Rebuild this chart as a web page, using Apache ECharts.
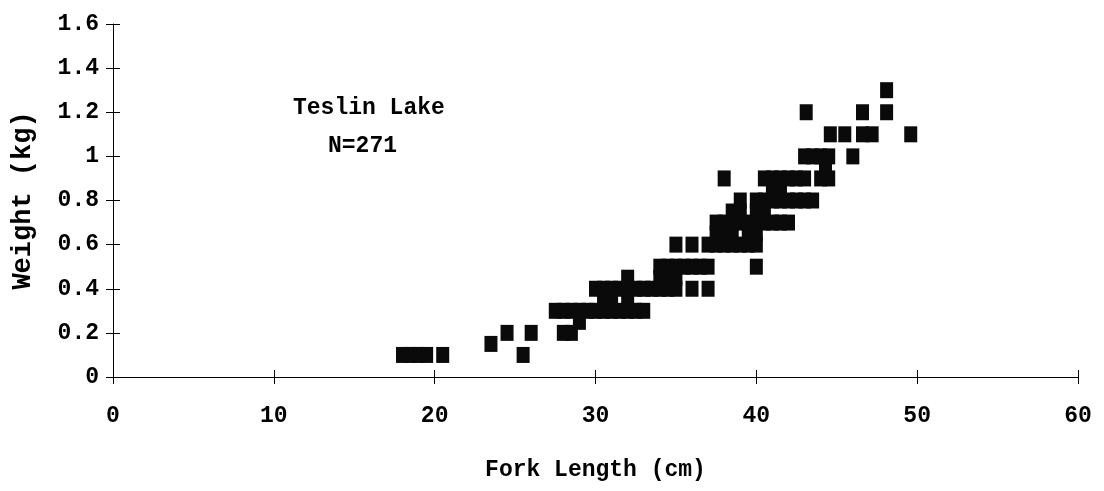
<!DOCTYPE html>
<html>
<head>
<meta charset="utf-8">
<script src="https://cdn.jsdelivr.net/npm/echarts@6/dist/echarts.min.js"></script>
<style>
html,body{margin:0;padding:0;background:#fff;}
#chart{width:1104px;height:491px;}
</style>
</head>
<body>
<div id="chart"></div>
<script>
// Fork length (cm) and weight (kg), one entry per visible marker
const lengthCm = [
  18, 18.5, 19, 19.5, 20.5, 25.5,
  23.5,
  24.5, 26, 28, 28.5,
  29,
  27.5, 28, 28.5, 29, 29.5, 30, 30.5, 31, 31.5, 32, 32.5, 33,
  30.5, 31, 32,
  30, 30.5, 31, 31.5, 32, 32.5, 33, 33.5, 34, 34.5, 35, 36, 37,
  32, 34, 34.5, 35,
  34, 34.5, 35, 35.5, 36, 36.5, 37, 40,
  35, 36, 37, 37.5, 38, 38.5, 39, 39.5, 40,
  37.5, 38, 38.5, 39.5, 40,
  37.5, 38, 38.5, 39, 39.5, 40, 40.5, 41, 41.5, 42,
  38.5, 39, 40, 40.5,
  39, 40, 40.5, 41, 41.5, 42, 42.5, 43, 43.5,
  41, 41.5,
  38, 40.5, 41, 41.5, 42, 42.5, 43, 44, 44.5,
  44.3,
  43, 43.5, 44, 44.5, 46,
  44.6, 45.5, 46.6, 47.2, 49.6,
  43.1, 46.6, 48.1,
  48.1
];
const weightKg = [
  0.1, 0.1, 0.1, 0.1, 0.1, 0.1,
  0.15,
  0.2, 0.2, 0.2, 0.2,
  0.25,
  0.3, 0.3, 0.3, 0.3, 0.3, 0.3, 0.3, 0.3, 0.3, 0.3, 0.3, 0.3,
  0.35, 0.35, 0.35,
  0.4, 0.4, 0.4, 0.4, 0.4, 0.4, 0.4, 0.4, 0.4, 0.4, 0.4, 0.4, 0.4,
  0.45, 0.45, 0.45, 0.45,
  0.5, 0.5, 0.5, 0.5, 0.5, 0.5, 0.5, 0.5,
  0.6, 0.6, 0.6, 0.6, 0.6, 0.6, 0.6, 0.6, 0.6,
  0.65, 0.65, 0.65, 0.65, 0.65,
  0.7, 0.7, 0.7, 0.7, 0.7, 0.7, 0.7, 0.7, 0.7, 0.7,
  0.75, 0.75, 0.75, 0.75,
  0.8, 0.8, 0.8, 0.8, 0.8, 0.8, 0.8, 0.8, 0.8,
  0.85, 0.85,
  0.9, 0.9, 0.9, 0.9, 0.9, 0.9, 0.9, 0.9, 0.9,
  0.95,
  1.0, 1.0, 1.0, 1.0, 1.0,
  1.1, 1.1, 1.1, 1.1, 1.1,
  1.2, 1.2, 1.2,
  1.3
];
const xTicks = [0, 10, 20, 30, 40, 50, 60];
const yTicks = [0, 0.2, 0.4, 0.6, 0.8, 1, 1.2, 1.4, 1.6];
const xTitle = 'Fork Length (cm)';
const yTitle = 'Weight (kg)';
const noteLines = ['Teslin Lake', 'N=271'];

const points = lengthCm.map((x, i) => [x, weightKg[i]]);
const FONT = '"Liberation Mono", "Courier New", monospace';

const chart = echarts.init(document.getElementById('chart'), null, {renderer: 'canvas'});
const axisLine = {show: true, lineStyle: {color: '#000', width: 1}};
chart.setOption({
  animation: false,
  backgroundColor: '#fff',
  grid: {left: 113, right: 26, top: 24, bottom: 114, containLabel: false},
  xAxis: [{
    type: 'value', min: xTicks[0], max: xTicks[xTicks.length - 1], interval: 10,
    position: 'bottom',
    axisLine: axisLine,
    axisTick: {show: true, inside: false, length: 7, lineStyle: {color: '#000'}},
    splitLine: {show: false},
    axisLabel: {show: true, margin: 28, color: '#000', fontFamily: FONT, fontWeight: 'bold', fontSize: 23},
    name: xTitle, nameLocation: 'middle', nameGap: 82,
    nameTextStyle: {color: '#000', fontFamily: FONT, fontWeight: 'bold', fontSize: 23}
  }, {
    type: 'value', min: xTicks[0], max: xTicks[xTicks.length - 1], interval: 10,
    position: 'bottom', offset: 0,
    axisLine: {show: false},
    axisTick: {show: true, inside: true, length: 7, lineStyle: {color: '#000'}},
    axisLabel: {show: false}, splitLine: {show: false}
  }],
  yAxis: [{
    type: 'value', min: yTicks[0], max: yTicks[yTicks.length - 1], interval: 0.2,
    position: 'left',
    axisLine: axisLine,
    axisTick: {show: true, inside: false, length: 7, lineStyle: {color: '#000'}},
    splitLine: {show: false},
    axisLabel: {show: true, margin: 14, color: '#000', fontFamily: FONT, fontWeight: 'bold', fontSize: 23},
    name: yTitle, nameLocation: 'middle', nameGap: 76, nameRotate: 90,
    nameTextStyle: {color: '#000', fontFamily: FONT, fontWeight: 'bold', fontSize: 27}
  }, {
    type: 'value', min: yTicks[0], max: yTicks[yTicks.length - 1], interval: 0.2,
    position: 'left', offset: 0,
    axisLine: {show: false},
    axisTick: {show: true, inside: true, length: 7, lineStyle: {color: '#000'}},
    axisLabel: {show: false}, splitLine: {show: false}
  }],
  graphic: [
    {type: 'text', left: 293, top: 97, style: {text: noteLines[0], fill: '#000', font: 'bold 23px ' + FONT}},
    {type: 'text', left: 328, top: 135, style: {text: noteLines[1], fill: '#000', font: 'bold 23px ' + FONT}}
  ],
  series: [{
    type: 'scatter',
    xAxisIndex: 0, yAxisIndex: 0,
    data: points,
    symbol: 'rect',
    symbolSize: [13, 16],
    itemStyle: {color: '#0a0a0a', opacity: 1, borderWidth: 0}
  }]
});
</script>
</body>
</html>
